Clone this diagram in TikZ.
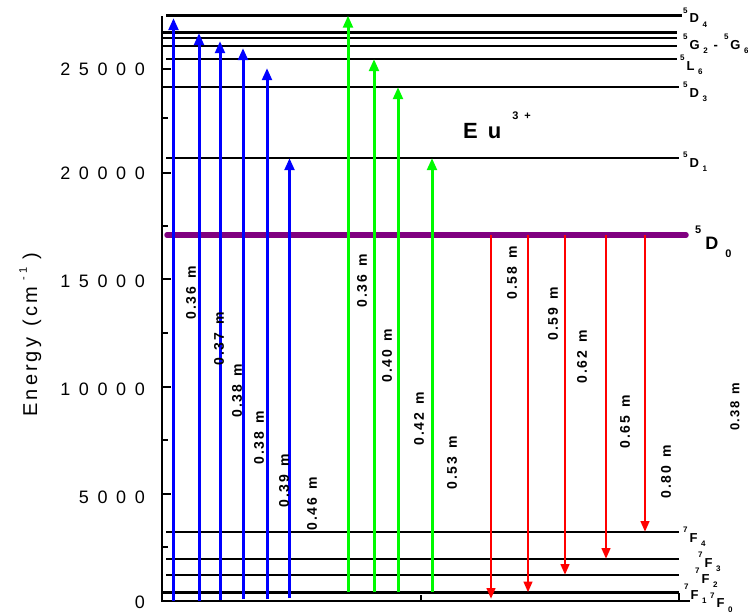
\documentclass[tikz,border=0pt]{standalone}
\usepackage{fontspec}
\setmainfont{Liberation Sans}
\usetikzlibrary{arrows.meta}

% letter-spaced text: \spaced{abc} puts \lettergap between the characters
\newdimen\lettergap
\def\spaced#1{\spacedfirst#1\relax}
\def\spacedfirst#1{#1\spacedrest}
\def\spacedrest#1{\ifx#1\relax\else\kern\lettergap#1\expandafter\spacedrest\fi}
\newcommand\setgap[1]{\lettergap #1\relax}

% spectroscopic term symbol: superscript multiplicity, letter, subscript J
\newcommand\termlab[3]{\raisebox{9.5pt}{\fontsize{8}{8}\selectfont#1}\kern2pt#2\kern3.5pt\raisebox{-4.5pt}{\fontsize{8}{8}\selectfont#3}}

\definecolor{absblue}{RGB}{0,0,255}
\definecolor{excgreen}{RGB}{0,250,0}
\definecolor{emred}{RGB}{255,0,0}
\definecolor{levpurple}{RGB}{128,0,128}

\tikzset{
  level/.style={line width=2.3pt},
  axisline/.style={line width=2.5pt},
  absorb/.style={line width=3pt, -{Triangle[length=12pt,width=9.5pt]}},
  emit/.style={line width=2.8pt, -{Triangle[length=11pt,width=8.5pt]}},
  wl/.style={rotate=90, inner sep=0pt, font=\bfseries\fontsize{14}{14}\selectfont\setgap{1.9pt}},
  ticklabel/.style={anchor=east, inner sep=0pt, font=\fontsize{18}{18}\selectfont\setgap{8.6pt}},
  term/.style={anchor=base west, inner sep=0pt, font=\bfseries\fontsize{13}{13}\selectfont},
}

\begin{document}
\begin{tikzpicture}[x=1pt,y=-1pt]
\useasboundingbox (0,0) rectangle (748,613);

% ---------------- axes ----------------
\coordinate (ytop) at (162,16);
\coordinate (orig) at (162,601);
\coordinate (xend) at (690,601);
\draw[axisline] (ytop) -- (orig) -- (xend);
\foreach \yy in {69,173,279,387,494}
  \draw[axisline] (162,\yy) -- (171,\yy);
\foreach \yy in {118,226,333,440,547}
  \draw[axisline] (162,\yy) -- (168,\yy);
\draw[axisline] (421,601) -- (421,595);
\draw[axisline] (679,601) -- (679,593);

\node[ticklabel] (t25) at (145,69)  {\spaced{25000}};
\node[ticklabel] (t20) at (145,173) {\spaced{20000}};
\node[ticklabel] (t15) at (145,281) {\spaced{15000}};
\node[ticklabel] (t10) at (145,389) {\spaced{10000}};
\node[ticklabel] (t05) at (145,497) {\spaced{5000}};
\node[ticklabel] (t00) at (145,602) {0};

\node[rotate=90, anchor=base, inner sep=0pt, font=\fontsize{20}{20}\selectfont\setgap{3pt}] (ylab) at (37,334.5)
  {\spaced{Energy~(cm}\kern7pt\raisebox{10pt}{\fontsize{11}{11}\selectfont\spaced{-1}}\kern8pt)};

% ---------------- energy levels ----------------
\coordinate (D4l) at (166,15.5);  \coordinate (D4r) at (682,15.5);
\coordinate (Gal) at (163,32.5);  \coordinate (Gar) at (677,32.5);
\coordinate (Gbl) at (163,38);    \coordinate (Gbr) at (677,38);
\coordinate (Gcl) at (163,46);    \coordinate (Gcr) at (677,46);
\coordinate (L6l) at (166,59);    \coordinate (L6r) at (677,59);
\coordinate (D3l) at (163,87);    \coordinate (D3r) at (679,87);
\coordinate (D1l) at (166,158);   \coordinate (D1r) at (679,158);
\coordinate (D0l) at (167,235);   \coordinate (D0r) at (686,235);
\coordinate (F4l) at (166,532);   \coordinate (F4r) at (679,532);
\coordinate (F3l) at (166,559);   \coordinate (F3r) at (679,559);
\coordinate (F2l) at (166,575);   \coordinate (F2r) at (679,575);
\coordinate (F1l) at (163,592.5); \coordinate (F1r) at (679,592.5);

\foreach \lv in {D4,Ga,Gb,Gc,L6,D3,D1,F4,F3,F2,F1}
  \draw[level] (\lv l) -- (\lv r);
\draw[levpurple, line width=5.5pt, line cap=round] (D0l) -- (D0r);

% ---------------- term labels ----------------
\node[term] (tD4) at (683,23)  {\termlab{5}{D}{4}};
\node[term] (tG)  at (683,49)  {\termlab{5}{G}{2}\kern6pt-\kern6pt\termlab{5}{G}{6}};
\node[term] (tL6) at (680,70)  {\termlab{5}{L}{6}};
\node[term] (tD3) at (683,97)  {\termlab{5}{D}{3}};
\node[term] (tD1) at (683,167) {\termlab{5}{D}{1}};
\node[term] (tD0) at (695,249)
  {\raisebox{16pt}{\fontsize{11}{11}\selectfont 5}\kern4pt{\fontsize{18}{18}\selectfont D}\kern7pt\raisebox{-8pt}{\fontsize{11}{11}\selectfont 0}};
\node[term] (tF4) at (683,542) {\termlab{7}{F}{4}};
\node[term] (tF3) at (698,567) {\termlab{7}{F}{3}};
\node[term] (tF2) at (695,583) {\termlab{7}{F}{2}};
\node[term] (tF1) at (684,599) {\termlab{7}{F}{1}};
\node[term] (tF0) at (710,607.5) {\termlab{7}{F}{0}};

\node[anchor=base west, inner sep=0pt, font=\bfseries\fontsize{22}{22}\selectfont] (ion) at (463,138)
  {E\kern10pt u\kern11pt\raisebox{19pt}{\fontsize{11}{11}\selectfont 3\kern6pt+}};

% ---------------- absorption (blue) ----------------
\coordinate (b1) at (173.5,601); \coordinate (b1t) at (173.5,18);
\coordinate (b2) at (199,601);   \coordinate (b2t) at (199,33);
\coordinate (b3) at (220,600);   \coordinate (b3t) at (220,41);
\coordinate (b4) at (243,599);   \coordinate (b4t) at (243,48);
\coordinate (b5) at (267,599);   \coordinate (b5t) at (267,68);
\coordinate (b6) at (289.5,598); \coordinate (b6t) at (289.5,158);
\foreach \i in {1,...,6}
  \draw[absorb, absblue] (b\i) -- (b\i t);

\node[wl] (w1) at (191,293) {\spaced{0.36~m}};
\node[wl] (w2) at (219,339) {\spaced{0.37~m}};
\node[wl] (w3) at (237,391) {\spaced{0.38~m}};
\node[wl] (w4) at (259,438) {\spaced{0.38~m}};
\node[wl] (w5) at (284,481) {\spaced{0.39~m}};
\node[wl] (w6) at (312,504) {\spaced{0.46~m}};

% ---------------- excitation (green) ----------------
\coordinate (g1) at (348,592);
\coordinate (g2) at (374,592);
\coordinate (g3) at (398,592);
\coordinate (g4) at (432,592);
\draw[absorb, excgreen] (g1) -- (g1 |- D4l);
\draw[absorb, excgreen] (g2) -- (g2 |- L6l);
\draw[absorb, excgreen] (g3) -- (g3 |- D3l);
\draw[absorb, excgreen] (g4) -- (g4 |- D1l);

\node[wl] (w7)  at (362,281) {\spaced{0.36~m}};
\node[wl] (w8)  at (387,356) {\spaced{0.40~m}};
\node[wl] (w9)  at (419,419) {\spaced{0.42~m}};
\node[wl] (w10) at (452,463) {\spaced{0.53~m}};

% ---------------- emission (red) ----------------
\coordinate (r1) at (491,235);
\coordinate (r2) at (528,235);
\coordinate (r3) at (565,235);
\coordinate (r4) at (606,235);
\coordinate (r5) at (645,235);
\coordinate (r1end) at (491,599);
\draw[emit, emred] (r1) -- (r1end);
\draw[emit, emred] (r2) -- (r2 |- F1l);
\draw[emit, emred] (r3) -- (r3 |- F2l);
\draw[emit, emred] (r4) -- (r4 |- F3l);
\draw[emit, emred] (r5) -- (r5 |- F4l);

\node[wl] (w11) at (512,273) {\spaced{0.58~m}};
\node[wl] (w12) at (553,314) {\spaced{0.59~m}};
\node[wl] (w13) at (582,357) {\spaced{0.62~m}};
\node[wl] (w14) at (625,422) {\spaced{0.65~m}};
\node[wl] (w15) at (666,472) {\spaced{0.80~m}};

\node[wl, font=\bfseries\fontsize{13}{13}\selectfont\setgap{1.5pt}] (w16) at (735,407) {\spaced{0.38~m}};
\end{tikzpicture}
\end{document}
